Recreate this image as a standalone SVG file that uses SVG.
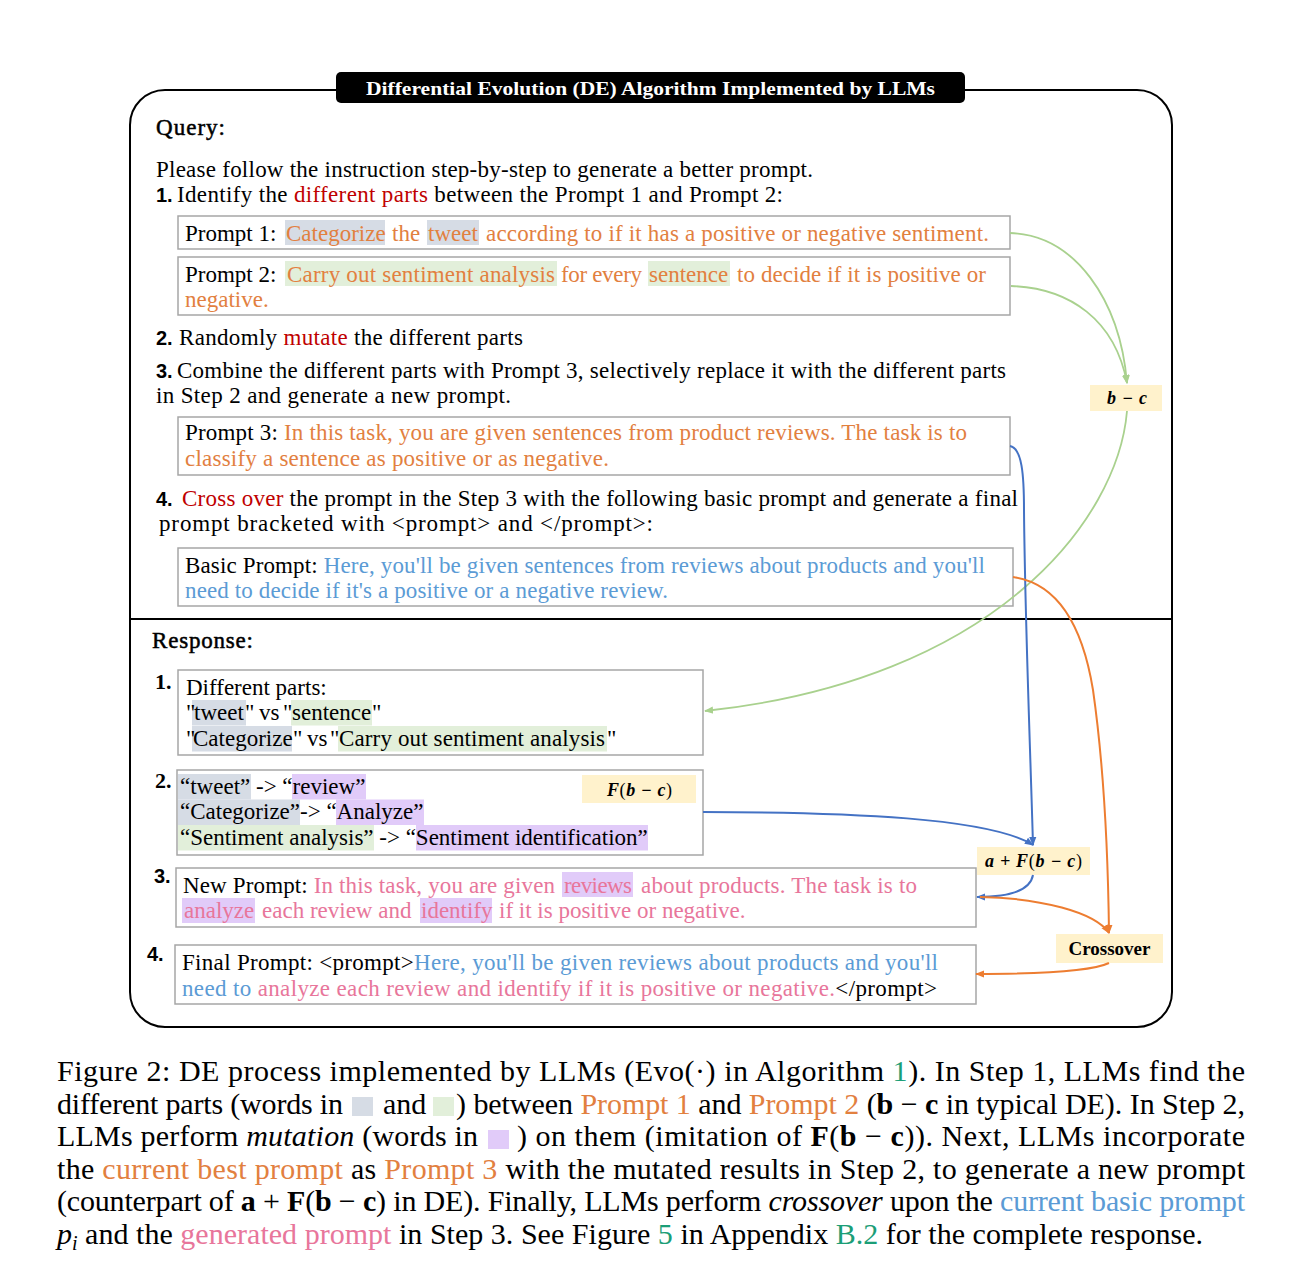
<svg xmlns="http://www.w3.org/2000/svg" width="1299" height="1284" viewBox="0 0 1299 1284">
<defs>
<style>
.s{font-family:"Liberation Serif","Times New Roman",serif;font-size:23px;fill:#000}
.hd{stroke:#000;stroke-width:0.5}
.num{font-family:"Liberation Sans",Arial,sans-serif;font-weight:bold;font-size:20px;fill:#000}
.nums{font-family:"Liberation Serif","Times New Roman",serif;font-weight:bold;font-size:22px;fill:#000}
.title{font-family:"Liberation Serif","Times New Roman",serif;font-weight:bold;font-size:19px;fill:#fff}
.math{font-family:"Liberation Serif","Times New Roman",serif;font-weight:bold;font-style:italic;font-size:18px;fill:#000}
.lb{font-family:"Liberation Serif","Times New Roman",serif;font-weight:bold;font-size:19px;fill:#000}
.cap{font-family:"Liberation Serif","Times New Roman",serif;font-size:30px;fill:#000}
.o{fill:#e2803f}.bl{fill:#5b9bd5}.pk{fill:#e8769b}.r{fill:#c00000}.gn{fill:#1b9e77}
.box{fill:#fff;stroke:#a6a6a6;stroke-width:1.5}
.hg{fill:#d6dce5}.hgr{fill:#e2efda}.hp{fill:#e1cbf9}.lab{fill:#fff2cc}
.cg{fill:none;stroke:#a9d18e;stroke-width:1.8}
.cb{fill:none;stroke:#4472c4;stroke-width:2}
.co{fill:none;stroke:#ed7d31;stroke-width:2}
</style>
<marker id="mg" markerUnits="userSpaceOnUse" markerWidth="9" markerHeight="9" viewBox="0 0 10 10" refX="9" refY="5" orient="auto"><path d="M0,1 L10,5 L0,9 z" fill="#a9d18e"/></marker>
<marker id="mb" markerUnits="userSpaceOnUse" markerWidth="9" markerHeight="9" viewBox="0 0 10 10" refX="9" refY="5" orient="auto"><path d="M0,1 L10,5 L0,9 z" fill="#4472c4"/></marker>
<marker id="mo" markerUnits="userSpaceOnUse" markerWidth="9" markerHeight="9" viewBox="0 0 10 10" refX="9" refY="5" orient="auto"><path d="M0,1 L10,5 L0,9 z" fill="#ed7d31"/></marker>
</defs>
<rect width="1299" height="1284" fill="#fff"/>

<g id="frame">
<rect x="130" y="90" width="1042" height="937" rx="35" fill="none" stroke="#000" stroke-width="2"/>
<line x1="130" y1="619" x2="1172" y2="619" stroke="#000" stroke-width="2"/>
</g>

<g id="title">
<rect x="336" y="72" width="629" height="31" rx="5" fill="#000"/>
<text class="title" x="366" y="95" textLength="569" lengthAdjust="spacingAndGlyphs">Differential Evolution (DE) Algorithm Implemented by LLMs</text>
</g>

<g id="query">
<text class="s hd" x="156" y="135" textLength="69">Query:</text>
<text class="s" x="156" y="177" textLength="657">Please follow the instruction step-by-step to generate a better prompt.</text>
<text class="num" x="156" y="202">1.</text>
<text class="s" x="177" y="202" textLength="606">Identify the <tspan class="r">different parts</tspan> between the Prompt 1 and Prompt 2:</text>
<text class="num" x="156" y="345">2.</text>
<text class="s" x="179" y="345" textLength="344">Randomly <tspan class="r">mutate</tspan> the different parts</text>
<text class="num" x="156" y="378">3.</text>
<text class="s" x="177" y="378" textLength="829">Combine the different parts with Prompt 3, selectively replace it with the different parts</text>
<text class="s" x="156" y="403" textLength="355">in Step 2 and generate a new prompt.</text>
<text class="num" x="156" y="506">4.</text>
<text class="s" x="182" y="506" textLength="836"><tspan class="r">Cross over</tspan> the prompt in the Step 3 with the following basic prompt and generate a final</text>
<text class="s" x="159" y="531" textLength="494">prompt bracketed with &lt;prompt&gt; and &lt;/prompt&gt;:</text>
</g>

<g id="prompt1">
<rect class="box" x="178" y="216" width="832" height="33"/>
<rect class="hg" x="285" y="220" width="100" height="25"/>
<rect class="hg" x="427" y="220" width="52" height="25"/>
<text class="s" x="185" y="241">Prompt 1:</text>
<text class="s o" x="286" y="241">Categorize</text>
<text class="s o" x="392" y="241">the</text>
<text class="s o" x="428" y="241">tweet</text>
<text class="s o" x="486" y="241" textLength="503">according to if it has a positive or negative sentiment.</text>
</g>

<g id="prompt2">
<rect class="box" x="178" y="257" width="832" height="58"/>
<rect class="hgr" x="285" y="261" width="272" height="25"/>
<rect class="hgr" x="648" y="261" width="82" height="25"/>
<text class="s" x="185" y="282">Prompt 2:</text>
<text class="s o" x="287" y="282" textLength="268">Carry out sentiment analysis</text>
<text class="s o" x="561" y="282" textLength="81">for every</text>
<text class="s o" x="649" y="282">sentence</text>
<text class="s o" x="737" y="282" textLength="249">to decide if it is positive or</text>
<text class="s o" x="185" y="307">negative.</text>
</g>

<g id="prompt3">
<rect class="box" x="178" y="417" width="832" height="58"/>
<text class="s" x="185" y="440" textLength="782">Prompt 3: <tspan class="o">In this task, you are given sentences from product reviews. The task is to</tspan></text>
<text class="s o" x="185" y="466" textLength="424">classify a sentence as  positive or as negative.</text>
</g>

<g id="basic">
<rect class="box" x="178" y="548" width="835" height="58"/>
<text class="s" x="185" y="573" textLength="800">Basic Prompt: <tspan class="bl">Here, you'll be given sentences from reviews about products and you'll</tspan></text>
<text class="s bl" x="185" y="598" textLength="483">need to decide if it's a positive or a negative review.</text>
</g>

<g id="response-head">
<text class="s hd" x="152" y="648" textLength="101">Response:</text>
</g>

<g id="resp1">
<rect class="box" x="178" y="670" width="525" height="85"/>
<text class="nums" x="155" y="689">1.</text>
<rect class="hg" x="192" y="700" width="54" height="25.5"/>
<rect class="hgr" x="291" y="700" width="81" height="25.5"/>
<rect class="hg" x="192" y="726" width="100" height="25.5"/>
<rect class="hgr" x="338" y="726" width="269" height="25.5"/>
<text class="s" x="186" y="695">Different parts:</text>
<text class="s" x="186" y="720">"</text>
<text class="s" x="194" y="720">tweet</text>
<text class="s" x="245" y="720">"</text>
<text class="s" x="259" y="720">vs</text>
<text class="s" x="283" y="720">"</text>
<text class="s" x="292" y="720">sentence</text>
<text class="s" x="372" y="720">"</text>
<text class="s" x="186" y="746">"</text>
<text class="s" x="193" y="746">Categorize</text>
<text class="s" x="293" y="746">"</text>
<text class="s" x="307" y="746">vs</text>
<text class="s" x="330" y="746">"</text>
<text class="s" x="339" y="746" textLength="266">Carry out sentiment analysis</text>
<text class="s" x="607" y="746">"</text>
</g>

<g id="resp2">
<rect class="box" x="177" y="770" width="526" height="85"/>
<text class="nums" x="155" y="788">2.</text>
<rect class="hg" x="178" y="774" width="73" height="25.5"/>
<rect class="hp" x="292" y="774" width="74" height="25.5"/>
<rect class="hg" x="178" y="799.5" width="122" height="25.5"/>
<rect class="hp" x="336" y="799.5" width="88" height="25.5"/>
<rect class="hgr" x="178" y="825" width="196" height="25.5"/>
<rect class="hp" x="416" y="825" width="232" height="25.5"/>
<text class="s" x="180" y="794">“tweet” -&gt; “review”</text>
<text class="s" x="180" y="819">“Categorize”-&gt; “Analyze”</text>
<text class="s" x="180" y="845">“Sentiment analysis” -&gt; “Sentiment identification”</text>
</g>

<g id="label-fbc">
<rect class="lab" x="582" y="775" width="114" height="28"/>
<text class="math" x="607" y="796" textLength="65">F<tspan font-style="normal" font-weight="normal">(</tspan>b − c<tspan font-style="normal" font-weight="normal">)</tspan></text>
</g>

<g id="resp3">
<rect class="box" x="176" y="868" width="800" height="59"/>
<text class="num" x="154" y="883">3.</text>
<rect class="hp" x="562" y="872" width="71" height="25"/>
<rect class="hp" x="182" y="898" width="73" height="25"/>
<rect class="hp" x="420" y="898" width="72" height="25"/>
<text class="s" x="183" y="893" textLength="372">New Prompt: <tspan class="pk">In this task, you are given</tspan></text>
<text class="s pk" x="564" y="893" textLength="68">reviews</text>
<text class="s pk" x="641" y="893" textLength="276">about products. The task is to</text>
<text class="s pk" x="184" y="918">analyze</text>
<text class="s pk" x="262" y="918">each review and</text>
<text class="s pk" x="421" y="918">identify</text>
<text class="s pk" x="499" y="918">if it is positive or negative.</text>
</g>

<g id="resp4">
<rect class="box" x="175" y="945" width="801" height="59"/>
<text class="num" x="147" y="961">4.</text>
<text class="s" x="182" y="970" textLength="756">Final Prompt: &lt;prompt&gt;<tspan class="bl">Here, you'll be given reviews about products and you'll</tspan></text>
<text class="s" x="182" y="996" textLength="755"><tspan class="bl">need to </tspan><tspan class="pk">analyze each review and identify if it is positive or negative.</tspan>&lt;/prompt&gt;</text>
</g>

<g id="label-bc">
<rect class="lab" x="1090" y="385" width="72" height="26"/>
<text class="math" x="1107" y="404" textLength="40">b − c</text>
</g>

<g id="label-afbc">
<rect class="lab" x="977" y="847" width="113" height="28"/>
<text class="math" x="985" y="867" textLength="97">a + F<tspan font-style="normal" font-weight="normal">(</tspan>b − c<tspan font-style="normal" font-weight="normal">)</tspan></text>
</g>

<g id="label-crossover">
<rect class="lab" x="1056" y="934" width="107" height="29"/>
<text class="lb" x="1109.5" y="955" text-anchor="middle">Crossover</text>
</g>

<g id="connectors">
<path class="cg" d="M1010,233 C1075,235 1120,300 1127,383" marker-end="url(#mg)"/>
<path class="cg" d="M1011,286 C1070,288 1115,320 1127,383" marker-end="url(#mg)"/>
<path class="cg" d="M1127,411 C1118,520 995,680 705,711" marker-end="url(#mg)"/>
<path class="cb" d="M1010,446 C1022,448 1024,475 1024,510 C1025,620 1030,740 1033,845" marker-end="url(#mb)"/>
<path class="cb" d="M703,812 C850,812 990,818 1033,845" marker-end="url(#mb)"/>
<path class="cb" d="M1033,875 C1030,892 1005,897 977,897" marker-end="url(#mb)"/>
<path class="co" d="M1013,577 C1048,582 1080,610 1093,690 C1103,760 1108,850 1109,933" marker-end="url(#mo)"/>
<path class="co" d="M980,897 C1040,898 1095,912 1109,933" marker-end="url(#mo)"/>
<path class="co" d="M1109,963 C1090,972 1030,974 976,974" marker-end="url(#mo)"/>
</g>

<g id="caption">
<text class="cap" x="57" y="1081" textLength="1188">Figure 2: DE process implemented by LLMs (Evo(·) in Algorithm <tspan class="gn">1</tspan>). In Step 1, LLMs find the</text>
<text class="cap" x="57" y="1114" textLength="286">different parts (words in</text>
<rect class="hg" x="352" y="1097" width="21" height="19"/>
<text class="cap" x="383" y="1114">and</text>
<rect class="hgr" x="433" y="1097" width="21" height="19"/>
<text class="cap" x="456" y="1114" textLength="789">) between <tspan class="o">Prompt 1</tspan> and <tspan class="o">Prompt 2</tspan> (<tspan font-weight="bold">b</tspan> − <tspan font-weight="bold">c</tspan> in typical DE). In Step 2,</text>
<text class="cap" x="57" y="1146" textLength="421">LLMs perform <tspan font-style="italic">mutation</tspan> (words in</text>
<rect class="hp" x="488" y="1130" width="21" height="19"/>
<text class="cap" x="517" y="1146" textLength="728">) on them (imitation of <tspan font-weight="bold">F</tspan>(<tspan font-weight="bold">b</tspan> − <tspan font-weight="bold">c</tspan>)). Next, LLMs incorporate</text>
<text class="cap" x="57" y="1179" textLength="1188">the <tspan class="o">current best prompt</tspan> as <tspan class="o">Prompt 3</tspan> with the mutated results in Step 2, to generate a new prompt</text>
<text class="cap" x="57" y="1211" textLength="1188">(counterpart of <tspan font-weight="bold">a</tspan> + <tspan font-weight="bold">F</tspan>(<tspan font-weight="bold">b</tspan> − <tspan font-weight="bold">c</tspan>) in DE). Finally, LLMs perform <tspan font-style="italic">crossover</tspan> upon the <tspan class="bl">current basic prompt</tspan></text>
<text class="cap" x="57" y="1244" textLength="1146"><tspan font-style="italic">p</tspan><tspan font-style="italic" font-size="20" dy="6">i</tspan><tspan dy="-6"> and the </tspan><tspan class="pk">generated prompt</tspan> in Step 3. See Figure <tspan class="gn">5</tspan> in Appendix <tspan class="gn">B.2</tspan> for the complete response.</text>
</g>
</svg>
